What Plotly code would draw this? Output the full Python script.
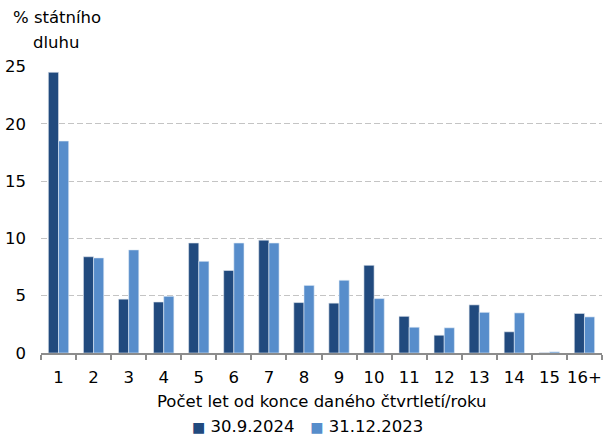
import plotly.graph_objects as go

categories = ["1", "2", "3", "4", "5", "6", "7", "8", "9", "10", "11", "12", "13", "14", "15", "16+"]
s2024 = [24.5, 8.4, 4.7, 4.45, 9.6, 7.2, 9.85, 4.4, 4.35, 7.65, 3.2, 1.55, 4.2, 1.85, 0.02, 3.45]
s2023 = [18.5, 8.3, 9.0, 4.95, 8.0, 9.6, 9.6, 5.9, 6.35, 4.75, 2.25, 2.2, 3.55, 3.5, 0.1, 3.15]
series_names = ["30.9.2024", "31.12.2023"]
series_colors = ["#214A7E", "#578DCB"]
yticks = [0, 5, 10, 15, 20, 25]

FONT = "DejaVu Sans"
FS = 16.5
W, H = 603, 437
L, R, T, B = 41, 1, 66, 84
PH = H - T - B
PW = W - L - R


def px(xv):
    return (xv - L) / PW


def py(yv):
    return (H - B - yv) / PH


fig = go.Figure()
fig.add_trace(go.Bar(x=categories, y=s2024, name=series_names[0],
                     marker=dict(color=series_colors[0], line=dict(color="#dfe6ef", width=0.6))))
fig.add_trace(go.Bar(x=categories, y=s2023, name=series_names[1],
                     marker=dict(color=series_colors[1], line=dict(color="#e3ecf6", width=0.6))))

sq = "<span style='color:%s;font-size:14px'>■</span>&nbsp;"
legend_text = (sq % series_colors[0]) + series_names[0] + "&nbsp;&nbsp;&nbsp;" + \
              (sq % series_colors[1]) + series_names[1]

fig.update_layout(
    width=W, height=H,
    margin=dict(l=L, r=R, t=T, b=B, autoexpand=False),
    paper_bgcolor="white", plot_bgcolor="white",
    font=dict(family=FONT, size=FS, color="#000000"),
    barmode="group", bargap=0.42, bargroupgap=0,
    showlegend=False,
    xaxis=dict(type="category", showgrid=False, showline=True, linecolor="#8c8c8c", linewidth=1.5,
               ticks="outside", tickson="boundaries", ticklen=5, tickcolor="#8c8c8c", tickwidth=1.5,
               tickangle=0, tickfont=dict(family=FONT, size=FS), ticklabelstandoff=8, automargin=False),
    yaxis=dict(range=[0, 25.05], tickvals=yticks, showgrid=True, gridcolor="#c4c4c4", griddash="6px,3px",
               gridwidth=1, zeroline=False, showline=False, ticks="", tickfont=dict(family=FONT, size=FS),
               ticklabelstandoff=14, automargin=False),
    annotations=[
        dict(text="% státního", x=px(56.5), y=py(17), xref="paper", yref="paper",
             showarrow=False, xanchor="center", yanchor="middle", font=dict(family=FONT, size=FS)),
        dict(text="dluhu", x=px(56), y=py(42), xref="paper", yref="paper",
             showarrow=False, xanchor="center", yanchor="middle", font=dict(family=FONT, size=FS)),
        dict(text="Počet let od konce daného čtvrtletí/roku", x=px(321.5), y=py(401),
             xref="paper", yref="paper", showarrow=False, xanchor="center", yanchor="middle",
             font=dict(family=FONT, size=FS)),
        dict(text=legend_text, x=px(307), y=py(426), xref="paper", yref="paper",
             showarrow=False, xanchor="center", yanchor="middle", font=dict(family=FONT, size=FS)),
    ],
)
fig.write_html("out.html", config={"displayModeBar": False},
               post_script="document.body.style.margin='0px';")
